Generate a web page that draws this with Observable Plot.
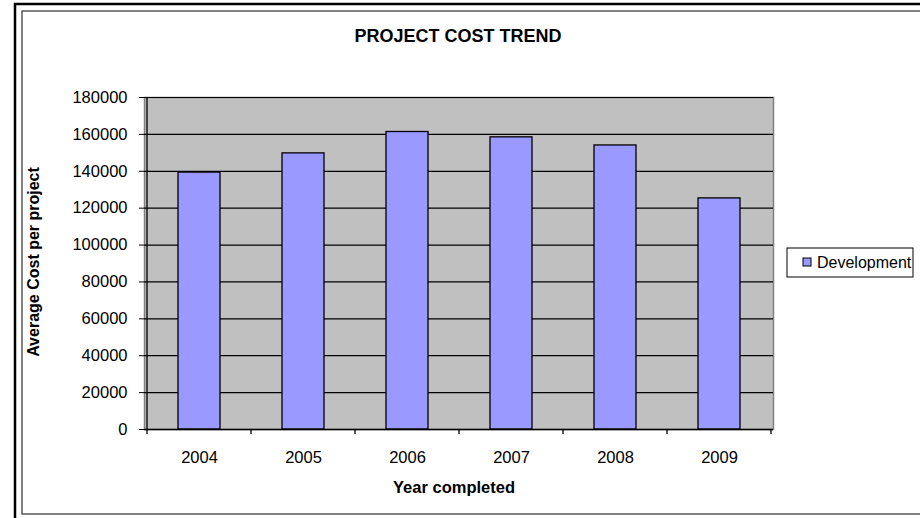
<!DOCTYPE html>
<html>
<head>
<meta charset="utf-8">
<script src="https://cdn.jsdelivr.net/npm/d3@7"></script>
<script src="https://cdn.jsdelivr.net/npm/@observablehq/plot@0.6"></script>
<style>
  html, body { margin: 0; padding: 0; background: white; }
  #chart { position: relative; width: 920px; height: 518px; overflow: hidden; }
  svg { display: block; }
</style>
</head>
<body>
<div id="chart"></div>
<script>
const years = ["2004", "2005", "2006", "2007", "2008", "2009"];
const costs = [139300, 149700, 161300, 158400, 154000, 125300];
const yTicks = [0, 20000, 40000, 60000, 80000, 100000, 120000, 140000, 160000, 180000];
const titleText = "PROJECT COST TREND";
const xTitle = "Year completed";
const yTitle = "Average Cost per project";
const seriesName = "Development";

const data = years.map((y, i) => ({year: y, cost: costs[i]}));
const FONT = "'Liberation Sans', Arial, Helvetica, sans-serif";

const plot = Plot.plot({
  width: 920,
  height: 518,
  marginLeft: 144,
  marginRight: 147,
  marginTop: 97,
  marginBottom: 89,
  style: {fontFamily: FONT, fontSize: "16.5px", color: "black", background: "white", overflow: "visible"},
  x: {domain: years, paddingInner: 0.6, paddingOuter: 0.3},
  y: {domain: [0, 180000]},
  marks: [
    Plot.frame({fill: "#C0C0C0", stroke: "#808080", strokeWidth: 1.5}),
    Plot.ruleY(yTicks.slice(1), {stroke: "black", strokeWidth: 1.2}),
    Plot.barY(data, {x: "year", y: "cost", fill: "#9999FF", stroke: "black", strokeWidth: 1.3}),
    Plot.axisY(yTicks, {tickSize: 5, tickPadding: 12, label: null, tickFormat: d => String(d), stroke: "black"}),
    Plot.axisX({tickSize: 0, tickPadding: 22, label: null}),
    Plot.ruleY([0], {stroke: "black", strokeWidth: 1.3})
  ]
});

const svg = d3.select(plot);
const xs = plot.scale("x");
const ys = plot.scale("y");
const gap = (xs.step - xs.bandwidth) / 2;
const bounds = years.map(y => xs.apply(y) - gap);
bounds.push(xs.apply(years[years.length - 1]) + xs.bandwidth + gap);
const y0 = ys.apply(0), yTop = ys.apply(180000);

// y axis line
svg.append("line")
  .attr("x1", bounds[0]).attr("x2", bounds[0])
  .attr("y1", yTop).attr("y2", y0)
  .attr("stroke", "black").attr("stroke-width", 1.3);
// x category boundary ticks
svg.append("g").selectAll("line").data(bounds).join("line")
  .attr("x1", d => d).attr("x2", d => d)
  .attr("y1", y0).attr("y2", y0 + 5)
  .attr("stroke", "black").attr("stroke-width", 1.3);

// outer borders
svg.append("rect").attr("x", 15).attr("y", 4).attr("width", 940).attr("height", 540)
  .attr("fill", "none").attr("stroke", "black").attr("stroke-width", 2.5);
svg.append("rect").attr("x", 22).attr("y", 11).attr("width", 920).attr("height", 503)
  .attr("fill", "none").attr("stroke", "#303030").attr("stroke-width", 1.2);

// title
svg.append("text").attr("x", 458).attr("y", 42).attr("text-anchor", "middle")
  .attr("font-family", FONT).attr("font-size", 18).attr("font-weight", "bold")
  .text(titleText);
// x title
svg.append("text").attr("x", 454).attr("y", 493).attr("text-anchor", "middle")
  .attr("font-family", FONT).attr("font-size", 16.5).attr("font-weight", "bold")
  .text(xTitle);
// y title
svg.append("text").attr("transform", "translate(39,262) rotate(-90)").attr("text-anchor", "middle")
  .attr("font-family", FONT).attr("font-size", 16).attr("font-weight", "bold")
  .text(yTitle);

// legend
const lg = svg.append("g");
lg.append("rect").attr("x", 787).attr("y", 248).attr("width", 126).attr("height", 29)
  .attr("fill", "white").attr("stroke", "black").attr("stroke-width", 1);
lg.append("rect").attr("x", 803).attr("y", 258).attr("width", 8).attr("height", 8)
  .attr("fill", "#9999FF").attr("stroke", "black").attr("stroke-width", 1);
lg.append("text").attr("x", 817).attr("y", 268).attr("text-anchor", "start")
  .attr("font-family", FONT).attr("font-size", 16).text(seriesName);

document.getElementById("chart").appendChild(plot);
</script>
</body>
</html>
